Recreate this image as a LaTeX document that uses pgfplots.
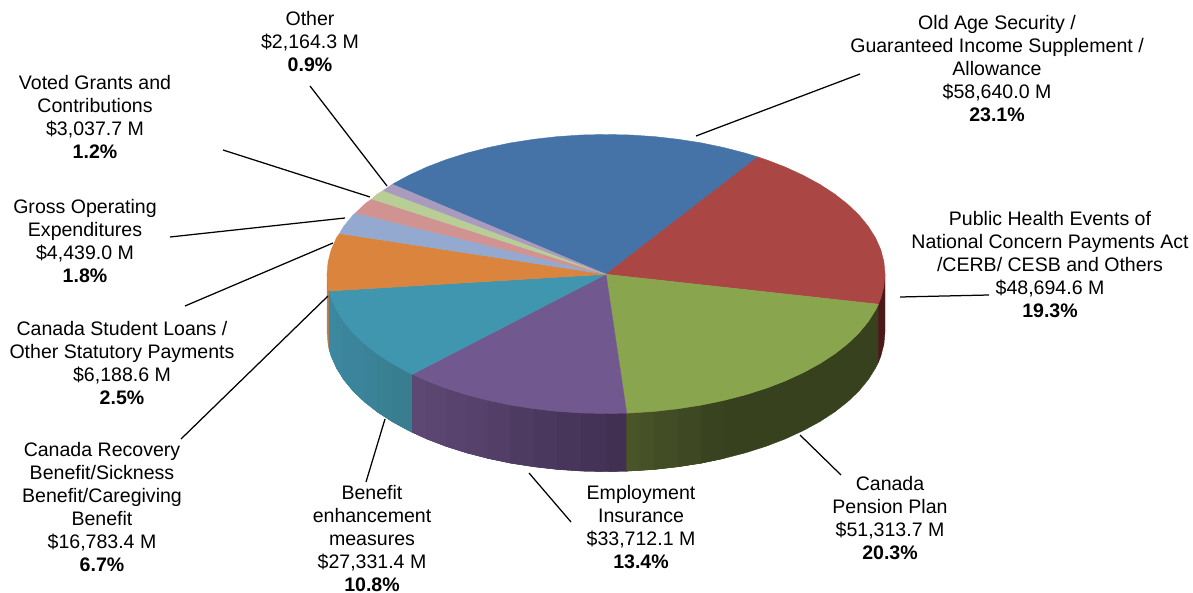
\documentclass[border=0pt]{standalone}
\usepackage{fontspec}
\setmainfont{Liberation Sans}
\usepackage{pgfplots}
\pgfplotsset{compat=1.18}
\definecolor{cBlue}{HTML}{4572A7}
\definecolor{cRed}{HTML}{AA4643}
\definecolor{cGreen}{HTML}{89A54E}
\definecolor{cPurple}{HTML}{71588F}
\definecolor{cTeal}{HTML}{4096AE}
\definecolor{cOrange}{HTML}{DB843D}
\definecolor{cLtBlue}{HTML}{93A9CF}
\definecolor{cPink}{HTML}{D19392}
\definecolor{cLtGreen}{HTML}{B9CD96}
\definecolor{cLilac}{HTML}{A99BBD}
\definecolor{sPurpleA}{HTML}{5E4875}
\definecolor{sPurpleB}{HTML}{3F2F50}
\definecolor{sGreenA}{HTML}{4A5429}
\definecolor{sGreenB}{HTML}{37411E}
\definecolor{sTealA}{HTML}{3C88A0}
\definecolor{sTealB}{HTML}{387C8E}
\definecolor{sRed}{HTML}{4A1A19}
\pgfplotsset{
  face/.style={draw=#1, fill=#1, line width=0.4pt, mark=none, solid},
  leader/.style={draw=black, line width=1.25pt, mark=none, solid},
}
\tikzset{lbl/.style={align=center, anchor=center, text=black, inner sep=0pt,
              font=\fontsize{19.55}{23}\selectfont}}
\begin{document}
\begin{tikzpicture}
% the page is the full plotting area
\path[use as bounding box] (0,0) rectangle (1193pt,593pt);
\begin{axis}[
  at={(0,0)}, anchor=south west,
  width=1193pt, height=593pt, scale only axis,
  xmin=0, xmax=1193, ymin=0, ymax=593, y dir=reverse,
  hide axis, clip=false,
]
% outer wall of the disc: a base shape per wedge, then strips left to right
\addplot[face={cOrange!95!black}] coordinates {(329.1,291) (328.1,286.2) (327,274) (327,332) (328.1,344.2) (329.1,349) } -- cycle;
\addplot[face={sTealA!50!sTealB}] coordinates {(329.1,291) (331.2,298.2) (336.5,310.1) (343.8,321.7) (353.1,333) (364.4,343.8) (377.4,354) (392.3,363.7) (408.7,372.6) (412.3,374.3) (412.3,432.3) (408.7,430.6) (392.3,421.7) (377.4,412) (364.4,401.8) (353.1,391) (343.8,379.7) (336.5,368.1) (331.2,356.2) (329.1,349)} -- cycle;
\addplot[face={sTealA}] coordinates {(329.1,291) (331.2,298.2) (336.5,310.1) (336.5,368.1) (331.2,356.2) (329.1,349)} -- cycle;
\addplot[face={sTealA!90!sTealB}] coordinates {(336.5,310.1) (343.8,321.7) (343.8,379.7) (336.5,368.1)} -- cycle;
\addplot[face={sTealA!78!sTealB}] coordinates {(343.8,321.7) (353.1,333) (353.1,391) (343.8,379.7)} -- cycle;
\addplot[face={sTealA!65!sTealB}] coordinates {(353.1,333) (364.4,343.8) (364.4,401.8) (353.1,391)} -- cycle;
\addplot[face={sTealA!50!sTealB}] coordinates {(364.4,343.8) (377.4,354) (377.4,412) (364.4,401.8)} -- cycle;
\addplot[face={sTealA!30!sTealB}] coordinates {(377.4,354) (392.3,363.7) (392.3,421.7) (377.4,412)} -- cycle;
\addplot[face={sTealA!10!sTealB}] coordinates {(392.3,363.7) (408.7,372.6) (412.3,374.3) (412.3,432.3) (408.7,430.6) (392.3,421.7)} -- cycle;

\addplot[face={sPurpleA!50!sPurpleB}] coordinates {(412.3,374.3) (426.7,380.9) (446,388.3) (466.5,394.8) (488.1,400.4) (510.6,405.1) (533.8,408.7) (557.6,411.4) (581.7,413) (606,413.5) (626.7,413.1) (626.7,471.1) (606,471.5) (581.7,471) (557.6,469.4) (533.8,466.7) (510.6,463.1) (488.1,458.4) (466.5,452.8) (446,446.3) (426.7,438.9) (412.3,432.3)} -- cycle;
\addplot[face={sPurpleA!97!sPurpleB}] coordinates {(412.3,374.3) (426.7,380.9) (426.7,438.9) (412.3,432.3)} -- cycle;
\addplot[face={sPurpleA!89!sPurpleB}] coordinates {(426.7,380.9) (446,388.3) (446,446.3) (426.7,438.9)} -- cycle;
\addplot[face={sPurpleA!80!sPurpleB}] coordinates {(446,388.3) (466.5,394.8) (466.5,452.8) (446,446.3)} -- cycle;
\addplot[face={sPurpleA!71!sPurpleB}] coordinates {(466.5,394.8) (488.1,400.4) (488.1,458.4) (466.5,452.8)} -- cycle;
\addplot[face={sPurpleA!60!sPurpleB}] coordinates {(488.1,400.4) (510.6,405.1) (510.6,463.1) (488.1,458.4)} -- cycle;
\addplot[face={sPurpleA!49!sPurpleB}] coordinates {(510.6,405.1) (533.8,408.7) (533.8,466.7) (510.6,463.1)} -- cycle;
\addplot[face={sPurpleA!38!sPurpleB}] coordinates {(533.8,408.7) (557.6,411.4) (557.6,469.4) (533.8,466.7)} -- cycle;
\addplot[face={sPurpleA!26!sPurpleB}] coordinates {(557.6,411.4) (581.7,413) (581.7,471) (557.6,469.4)} -- cycle;
\addplot[face={sPurpleA!15!sPurpleB}] coordinates {(581.7,413) (606,413.5) (606,471.5) (581.7,471)} -- cycle;
\addplot[face={sPurpleA!5!sPurpleB}] coordinates {(606,413.5) (626.7,413.1) (626.7,471.1) (606,471.5)} -- cycle;

\addplot[face={sGreenB}] coordinates {(626.7,413.1) (654.4,411.4) (678.2,408.7) (701.4,405.1) (723.9,400.4) (745.5,394.8) (766,388.3) (785.3,380.9) (803.3,372.6) (819.7,363.7) (834.6,354) (847.6,343.8) (858.9,333) (868.2,321.7) (875.5,310.1) (878.4,304.2)
  (878.4,362.2) (875.5,368.1) (868.2,379.7) (858.9,391) (847.6,401.8) (834.6,412) (819.7,421.7) (803.3,430.6) (785.3,438.9) (766,446.3) (745.5,452.8) (723.9,458.4) (701.4,463.1) (678.2,466.7) (654.4,469.4) (626.7,471.1)} -- cycle;
\addplot[face={sGreenA}] coordinates {(626.7,413.1) (640,412.4) (640,470.4) (626.7,471.1)} -- cycle;
\addplot[face={sGreenA!85!sGreenB}] coordinates {(640,412.4) (654.4,411.4) (654.4,469.4) (640,470.4)} -- cycle;
\addplot[face={sGreenA!62!sGreenB}] coordinates {(654.4,411.4) (678.2,408.7) (678.2,466.7) (654.4,469.4)} -- cycle;
\addplot[face={sGreenA!35!sGreenB}] coordinates {(678.2,408.7) (701.4,405.1) (701.4,463.1) (678.2,466.7)} -- cycle;
\addplot[face={sGreenA!12!sGreenB}] coordinates {(701.4,405.1) (723.9,400.4) (723.9,458.4) (701.4,463.1)} -- cycle;
\addplot[face={sRed}] coordinates {(878.4,304.2) (880.8,298.2) (883.9,286.2) (885,274) (885,332) (883.9,344.2) (880.8,356.2) (878.4,362.2)} -- cycle;

% top face, one wedge per category
\addplot[face=cBlue] coordinates {(606,274.3) (392.3,184.3) (408.7,175.4) (426.7,167.1) (446,159.7) (466.5,153.2) (488.1,147.6) (510.6,142.9) (533.8,139.3) (557.6,136.6) (581.7,135) (606,134.5) (630.3,135) (654.4,136.6) (678.2,139.3) (701.4,142.9) (723.9,147.6) (745.5,153.2) (758,157)} -- cycle;
\addplot[face=cRed] coordinates {(606,274.3) (758,157) (766,159.7) (785.3,167.1) (803.3,175.4) (819.7,184.3) (834.6,194) (847.6,204.2) (858.9,215) (868.2,226.3) (875.5,237.9) (880.8,249.8) (883.9,261.8) (885,274) (883.9,286.2) (880.8,298.2) (878.4,304.2)} -- cycle;
\addplot[face=cGreen] coordinates {(606,274.3) (878.4,304.2) (875.5,310.1) (868.2,321.7) (858.9,333) (847.6,343.8) (834.6,354) (819.7,363.7) (803.3,372.6) (785.3,380.9) (766,388.3) (745.5,394.8) (723.9,400.4) (701.4,405.1) (678.2,408.7) (654.4,411.4) (630.3,413) (626.7,413.1)} -- cycle;
\addplot[face=cPurple] coordinates {(606,274.3) (626.7,413.1) (606,413.5) (581.7,413) (557.6,411.4) (533.8,408.7) (510.6,405.1) (488.1,400.4) (466.5,394.8) (446,388.3) (426.7,380.9) (412.3,374.3)} -- cycle;
\addplot[face=cTeal] coordinates {(606,274.3) (412.3,374.3) (408.7,372.6) (392.3,363.7) (377.4,354) (364.4,343.8) (353.1,333) (343.8,321.7) (336.5,310.1) (331.2,298.2) (329.1,291)} -- cycle;
\addplot[face=cOrange] coordinates {(606,274.3) (329.1,291) (328.1,286.2) (327,274) (328.1,261.8) (331.2,249.8) (336.5,237.9) (339.5,233.5)} -- cycle;
\addplot[face=cLtBlue] coordinates {(606,274.3) (339.5,233.5) (343.8,226.3) (353.1,215) (355.5,213)} -- cycle;
\addplot[face=cPink] coordinates {(606,274.3) (355.5,213) (364.4,204.2) (371.7,199)} -- cycle;
\addplot[face=cLtGreen] coordinates {(606,274.3) (371.7,199) (377.4,194) (383.3,190.5)} -- cycle;
\addplot[face=cLilac] coordinates {(606,274.3) (383.3,190.5) (392.3,184.3)} -- cycle;

% leader lines
\addplot[leader] coordinates {(696,136) (860,74)};
\addplot[leader] coordinates {(900,297) (989,295)};
\addplot[leader] coordinates {(800,435) (841,475)};
\addplot[leader] coordinates {(529,473) (571,522)};
\addplot[leader] coordinates {(385,419) (366,482)};
\addplot[leader] coordinates {(328,296) (181,439)};
\addplot[leader] coordinates {(333,243) (185,306)};
\addplot[leader] coordinates {(345,218) (170,237)};
\addplot[leader] coordinates {(370,197) (223,150)};
\addplot[leader] coordinates {(387,186) (310,86)};

% labels
\node[lbl] at (axis cs:997,69) {Old Age Security /\\Guaranteed Income Supplement /\\Allowance\\\$58,640.0 M\\\textbf{23.1\%}};
\node[lbl] at (axis cs:1050,265) {Public Health Events of\\National Concern Payments Act\\/CERB/ CESB and Others\\\$48,694.6 M\\\textbf{19.3\%}};
\node[lbl] at (axis cs:890,518.5) {Canada\\Pension Plan\\\$51,313.7 M\\\textbf{20.3\%}};
\node[lbl] at (axis cs:641,527.5) {Employment\\Insurance\\\$33,712.1 M\\\textbf{13.4\%}};
\node[lbl] at (axis cs:372,539) {Benefit\\enhancement\\measures\\\$27,331.4 M\\\textbf{10.8\%}};
\node[lbl] at (axis cs:102,507) {Canada Recovery\\Benefit/Sickness\\Benefit/Caregiving\\Benefit\\\$16,783.4 M\\\textbf{6.7\%}};
\node[lbl] at (axis cs:122,363) {Canada Student Loans /\\Other Statutory Payments\\\$6,188.6 M\\\textbf{2.5\%}};
\node[lbl] at (axis cs:85,241.5) {Gross Operating\\Expenditures\\\$4,439.0 M\\\textbf{1.8\%}};
\node[lbl] at (axis cs:95,117) {Voted Grants and\\Contributions\\\$3,037.7 M\\\textbf{1.2\%}};
\node[lbl] at (axis cs:310,42) {Other\\\$2,164.3 M\\\textbf{0.9\%}};
\end{axis}
\end{tikzpicture}
\end{document}
